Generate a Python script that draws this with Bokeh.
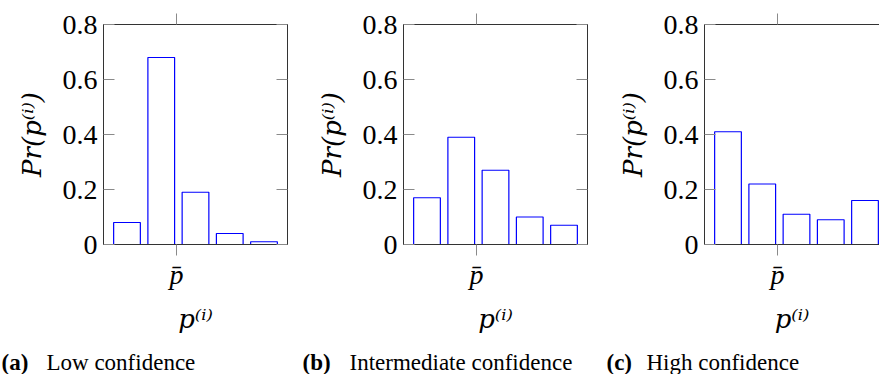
from bokeh.plotting import figure
from bokeh.layouts import row, column
from bokeh.models import FixedTicker, LinearAxis, Range1d, ColumnDataSource
from bokeh.core.properties import value
from bokeh.embed import file_html
from bokeh.resources import INLINE

# ---- data ----
positions = [1, 2, 3, 4, 5]
low_confidence = [0.08, 0.68, 0.19, 0.04, 0.01]
intermediate_confidence = [0.17, 0.39, 0.27, 0.10, 0.07]
high_confidence = [0.41, 0.22, 0.11, 0.09, 0.16]
pbar_position = 2.445
y_ticks = [0, 0.2, 0.4, 0.6, 0.8]
y_tick_labels = ["0", "0.2", "0.4", "0.6", "0.8"]
caption_tags = ["(a)", "(b)", "(c)"]
caption_texts = ["Low confidence", "Intermediate confidence", "High confidence"]
y_label = "Pr(p\u207d\u2071\u207e)"
x_label = "p\u207d\u2071\u207e"
pbar_label = "p\u0304"

SERIF = "'Liberation Serif'"
MATH = "'DejaVu Serif'"
AXIS_COL = "#333333"
TICK_COL = "#8a8a8a"
FONT = "28px"
LABEL_FONT = "26px"

X0, X1 = 0.314, 5.686
FRAME_W, FRAME_H = 184, 220
TOP, BOTTOM = 24, 100
CAP_H = 30
TOTAL_W = 879


def panel(values, width, left, right, full_box):
    px_per_unit = FRAME_W / (X1 - X0)
    frame_w = width - left - right
    x_end = X0 + frame_w / px_per_unit
    p = figure(width=width, height=TOP + FRAME_H + BOTTOM,
               x_range=Range1d(X0, x_end), y_range=Range1d(0, 0.8),
               x_axis_type=None, y_axis_type=None,
               output_backend="svg", toolbar_location=None,
               min_border_left=left, min_border_right=right,
               min_border_top=TOP, min_border_bottom=BOTTOM)
    p.background_fill_color = "white"
    p.border_fill_color = "white"
    p.xgrid.visible = False
    p.ygrid.visible = False
    if full_box:
        p.outline_line_color = AXIS_COL
        p.outline_line_width = 1
    else:
        p.outline_line_color = None

    src = ColumnDataSource(dict(x=positions, top=values))
    p.vbar(x="x", top="top", bottom=0, width=0.78, source=src,
           fill_color="white", line_color="#0000ff", line_width=1.2)

    overrides = {t: l for t, l in zip(y_ticks, y_tick_labels)}
    la = LinearAxis(ticker=FixedTicker(ticks=y_ticks), major_label_overrides=overrides,
                    major_tick_in=11, major_tick_out=0,
                    major_tick_line_color=TICK_COL, minor_tick_line_color=None,
                    axis_line_color=AXIS_COL,
                    major_label_standoff=6,
                    major_label_text_font=SERIF, major_label_text_font_size=FONT,
                    major_label_text_color="black",
                    axis_label=y_label, axis_label_text_font=MATH,
                    axis_label_text_font_size=LABEL_FONT, axis_label_text_font_style="italic",
                    axis_label_text_color="black", axis_label_standoff=13)
    p.add_layout(la, "left")

    ba = LinearAxis(ticker=FixedTicker(ticks=[pbar_position]),
                    major_label_overrides={pbar_position: pbar_label},
                    major_tick_in=0, major_tick_out=11,
                    major_tick_line_color=TICK_COL, minor_tick_line_color=None,
                    axis_line_color=AXIS_COL, major_label_standoff=3,
                    major_label_text_font=SERIF, major_label_text_font_size=FONT,
                    major_label_text_font_style="italic", major_label_text_color="black",
                    axis_label=x_label, axis_label_text_font=MATH,
                    axis_label_text_font_size=LABEL_FONT, axis_label_text_font_style="italic",
                    axis_label_text_color="black", axis_label_standoff=11)
    p.add_layout(ba, "below")

    ta = LinearAxis(ticker=FixedTicker(ticks=[pbar_position]),
                    major_tick_in=0, major_tick_out=11,
                    major_tick_line_color=TICK_COL, minor_tick_line_color=None,
                    axis_line_color=AXIS_COL, major_label_text_color=None,
                    major_label_text_font_size="1px", major_label_standoff=0)
    p.add_layout(ta, "above")

    if full_box:
        ra = LinearAxis(ticker=FixedTicker(ticks=y_ticks),
                        major_tick_in=11, major_tick_out=0,
                        major_tick_line_color=TICK_COL, minor_tick_line_color=None,
                        axis_line_color=AXIS_COL, major_label_text_color=None,
                        major_label_text_font_size="1px", major_label_standoff=0)
        p.add_layout(ra, "right")
    return p


p1 = panel(low_confidence, 300, 103, 13, True)
p2 = panel(intermediate_confidence, 300, 103, 13, True)
p3 = panel(high_confidence, 279, 104, 0, False)

cap = figure(width=TOTAL_W, height=CAP_H, x_range=Range1d(0, TOTAL_W), y_range=Range1d(0, CAP_H),
             x_axis_type=None, y_axis_type=None, output_backend="svg", toolbar_location=None,
             min_border=0)
cap.xgrid.visible = False
cap.ygrid.visible = False
cap.outline_line_color = None
tag_x = [1, 302, 606]
text_x = [46, 349, 646]
cap.text(x=tag_x, y=[12, 12, 12], text=caption_tags, text_font=value(SERIF),
         text_font_size="23px", text_font_style="bold", text_color="black",
         text_baseline="alphabetic")
cap.text(x=text_x, y=[12, 12, 12], text=caption_texts, text_font=value(SERIF),
         text_font_size="23px", text_color="black", text_baseline="alphabetic")

layout = column(row(p1, p2, p3, spacing=0), cap, spacing=0)
open("out.html", "w").write(file_html(layout, INLINE))
